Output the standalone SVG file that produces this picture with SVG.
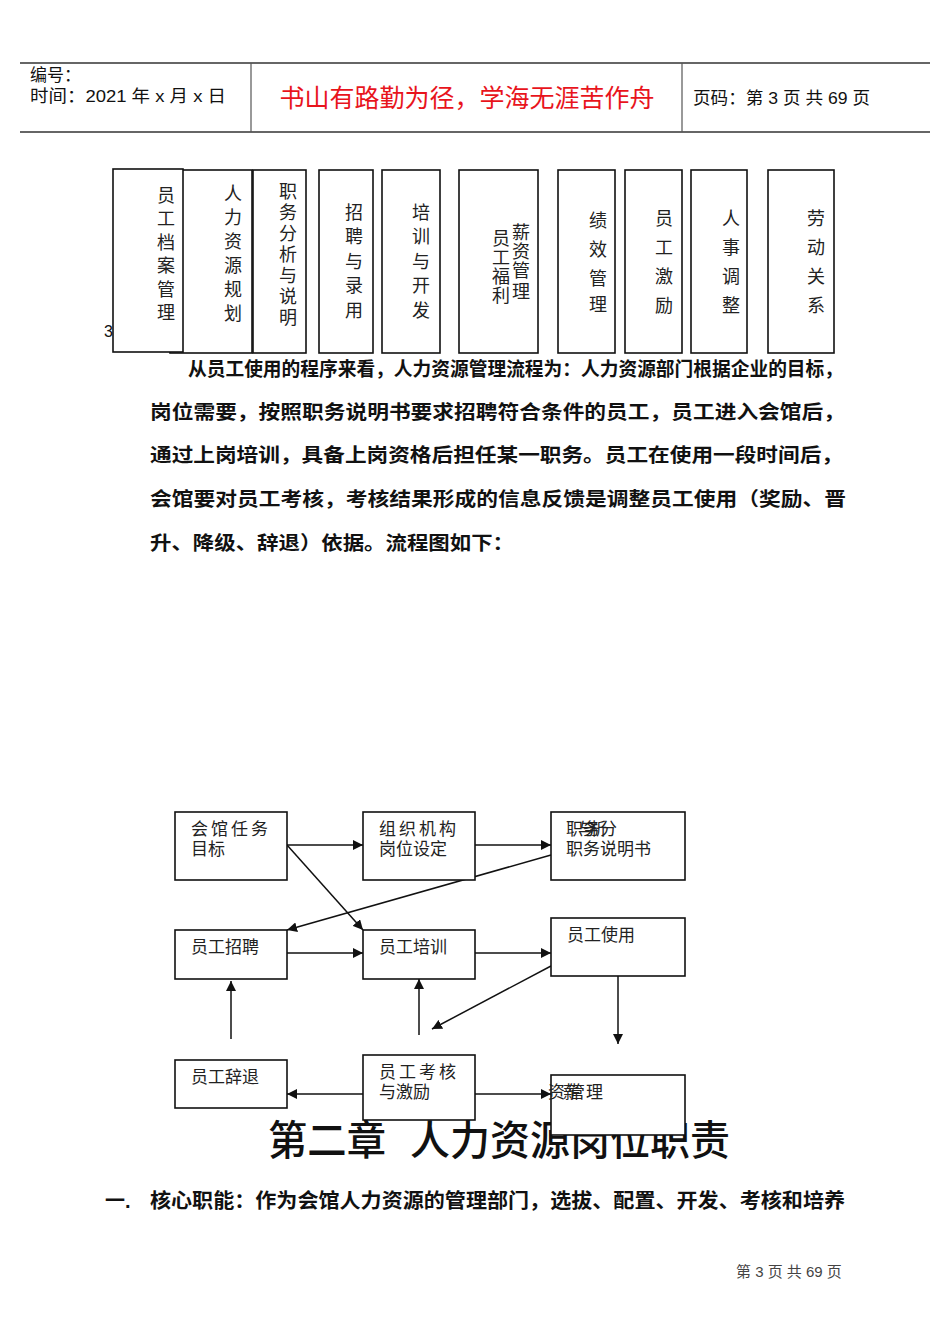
<svg xmlns="http://www.w3.org/2000/svg" width="950" height="1342" viewBox="0 0 950 1342">
<style>
text{font-family:"Liberation Sans","Noto Sans CJK SC",sans-serif;fill:#111}
.hl{stroke:#666;stroke-width:2}
.vb{fill:#fff;stroke:#111;stroke-width:1.6}
.vt{font-size:18px;text-anchor:middle;fill:#222}
.fb{fill:#fff;stroke:#111;stroke-width:1.6}
.ft{font-size:17px;fill:#222}
.conn line{stroke:#111;stroke-width:1.5}
.p{font-size:19px;font-weight:bold}
</style>
<defs>
<marker id="ah" viewBox="0 0 10 10" refX="10" refY="5" markerWidth="10" markerHeight="10" markerUnits="userSpaceOnUse" orient="auto">
<path d="M0,0 L10,5 L0,10 Z" fill="#111"/>
</marker>
</defs>
<rect width="950" height="1342" fill="#fff"/>

<g id="header">
<line class="hl" x1="20" y1="63" x2="930" y2="63"/>
<line class="hl" x1="20" y1="132" x2="930" y2="132"/>
<line x1="251" y1="63" x2="251" y2="132" stroke="#555" stroke-width="1.2"/>
<line x1="682" y1="63" x2="682" y2="132" stroke="#555" stroke-width="1.2"/>
<text x="30" y="81" font-size="17">编号：</text>
<text x="30" y="102" font-size="17" textLength="196" lengthAdjust="spacingAndGlyphs">时间：2021 年 x 月 x 日</text>
<text x="467" y="107" font-size="25" text-anchor="middle" style="fill:#e8141c">书山有路勤为径，学海无涯苦作舟</text>
<text x="693" y="104" font-size="17" textLength="177" lengthAdjust="spacingAndGlyphs">页码：第 3 页 共 69 页</text>
</g>

<g id="functions">
<text x="104" y="337" font-size="16">3</text>
<g id="f2"><rect class="vb" x="170" y="170" width="82" height="183"/>
<text class="vt"><tspan x="233" y="200">人</tspan><tspan x="233" y="224">力</tspan><tspan x="233" y="248">资</tspan><tspan x="233" y="272">源</tspan><tspan x="233" y="296">规</tspan><tspan x="233" y="320">划</tspan></text></g>
<g id="f1"><rect class="vb" x="113" y="169" width="70" height="183"/>
<text class="vt"><tspan x="166" y="202">员</tspan><tspan x="166" y="225">工</tspan><tspan x="166" y="249">档</tspan><tspan x="166" y="272">案</tspan><tspan x="166" y="296">管</tspan><tspan x="166" y="319">理</tspan></text></g>
<g id="f3"><rect class="vb" x="253" y="170" width="53" height="183"/>
<text class="vt"><tspan x="288" y="198">职</tspan><tspan x="288" y="219">务</tspan><tspan x="288" y="240">分</tspan><tspan x="288" y="261">析</tspan><tspan x="288" y="282">与</tspan><tspan x="288" y="303">说</tspan><tspan x="288" y="324">明</tspan></text></g>
<g id="f4"><rect class="vb" x="319" y="170" width="54" height="183"/>
<text class="vt"><tspan x="354" y="219">招</tspan><tspan x="354" y="243">聘</tspan><tspan x="354" y="268">与</tspan><tspan x="354" y="292">录</tspan><tspan x="354" y="317">用</tspan></text></g>
<g id="f5"><rect class="vb" x="382" y="170" width="58" height="183"/>
<text class="vt"><tspan x="421" y="219">培</tspan><tspan x="421" y="243">训</tspan><tspan x="421" y="268">与</tspan><tspan x="421" y="292">开</tspan><tspan x="421" y="317">发</tspan></text></g>
<g id="f6"><rect class="vb" x="459" y="170" width="79" height="183"/>
<text class="vt" font-size="19"><tspan x="501" y="245">员</tspan><tspan x="501" y="264">工</tspan><tspan x="501" y="283">福</tspan><tspan x="501" y="302">利</tspan></text>
<text class="vt" font-size="19"><tspan x="521" y="239">薪</tspan><tspan x="521" y="258">资</tspan><tspan x="521" y="277">管</tspan><tspan x="521" y="298">理</tspan></text></g>
<g id="f7"><rect class="vb" x="558" y="170" width="57" height="183"/>
<text class="vt"><tspan x="598" y="227">绩</tspan><tspan x="598" y="256">效</tspan><tspan x="598" y="285">管</tspan><tspan x="598" y="311">理</tspan></text></g>
<g id="f8"><rect class="vb" x="625" y="170" width="57" height="183"/>
<text class="vt"><tspan x="664" y="225">员</tspan><tspan x="664" y="254">工</tspan><tspan x="664" y="283">激</tspan><tspan x="664" y="312">励</tspan></text></g>
<g id="f9"><rect class="vb" x="691" y="170" width="56" height="183"/>
<text class="vt"><tspan x="731" y="225">人</tspan><tspan x="731" y="254">事</tspan><tspan x="731" y="283">调</tspan><tspan x="731" y="312">整</tspan></text></g>
<g id="f10"><rect class="vb" x="768" y="170" width="66" height="183"/>
<text class="vt"><tspan x="816" y="225">劳</tspan><tspan x="816" y="254">动</tspan><tspan x="816" y="283">关</tspan><tspan x="816" y="312">系</tspan></text></g>
</g>

<g id="paragraph">
<text class="p" x="188" y="376" textLength="655" lengthAdjust="spacingAndGlyphs">从员工使用的程序来看，人力资源管理流程为：人力资源部门根据企业的目标，</text>
<text class="p" x="150" y="419" textLength="695" lengthAdjust="spacingAndGlyphs">岗位需要，按照职务说明书要求招聘符合条件的员工，员工进入会馆后，</text>
<text class="p" x="150" y="462" textLength="693" lengthAdjust="spacingAndGlyphs">通过上岗培训，具备上岗资格后担任某一职务。员工在使用一段时间后，</text>
<text class="p" x="150" y="506" textLength="696" lengthAdjust="spacingAndGlyphs">会馆要对员工考核，考核结果形成的信息反馈是调整员工使用（奖励、晋</text>
<text class="p" x="150" y="550" textLength="364" lengthAdjust="spacingAndGlyphs">升、降级、辞退）依据。流程图如下：</text>
</g>

<g id="chapter-title">
<text x="268" y="1155" font-size="41" font-weight="500" textLength="118" lengthAdjust="spacingAndGlyphs">第二章</text>
<text x="410" y="1155" font-size="41" font-weight="500" textLength="320" lengthAdjust="spacingAndGlyphs">人力资源岗位职责</text>
</g>

<g id="flow-connectors" class="conn">
<line x1="287" y1="845" x2="363" y2="845" marker-end="url(#ah)"/>
<line x1="475" y1="845" x2="551" y2="845" marker-end="url(#ah)"/>
<line x1="287" y1="845" x2="363" y2="930" marker-end="url(#ah)"/>
<line x1="551" y1="855" x2="287" y2="930" marker-end="url(#ah)"/>
<line x1="287" y1="953" x2="363" y2="953" marker-end="url(#ah)"/>
<line x1="475" y1="953" x2="551" y2="953" marker-end="url(#ah)"/>
<line x1="551" y1="966" x2="432" y2="1029" marker-end="url(#ah)"/>
<line x1="618" y1="976" x2="618" y2="1044" marker-end="url(#ah)"/>
<line x1="231" y1="1039" x2="231" y2="981" marker-end="url(#ah)"/>
<line x1="419" y1="1035" x2="419" y2="979" marker-end="url(#ah)"/>
<line x1="363" y1="1094" x2="287" y2="1094" marker-end="url(#ah)"/>
<line x1="475" y1="1094" x2="551" y2="1094" marker-end="url(#ah)"/>
</g>

<g id="n-goal"><rect class="fb" x="175" y="812" width="112" height="68"/>
<text class="ft" x="191" y="835" letter-spacing="3">会馆任务</text><text class="ft" x="191" y="855">目标</text></g>
<g id="n-org"><rect class="fb" x="363" y="812" width="112" height="68"/>
<text class="ft" x="379" y="835" letter-spacing="3">组织机构</text><text class="ft" x="379" y="855">岗位设定</text></g>
<g id="n-jobdesc"><rect class="fb" x="551" y="812" width="134" height="68"/>
<text class="ft" x="566" y="835">职</text><text class="ft" x="578" y="835">与</text><text class="ft" x="583" y="835">务</text><text class="ft" x="590" y="835">析</text><text class="ft" x="600" y="835">分</text>
<text class="ft" x="566" y="855">职务说明书</text></g>
<g id="n-recruit"><rect class="fb" x="175" y="930" width="112" height="49"/>
<text class="ft" x="191" y="953">员工招聘</text></g>
<g id="n-train"><rect class="fb" x="363" y="930" width="112" height="49"/>
<text class="ft" x="379" y="953">员工培训</text></g>
<g id="n-use"><rect class="fb" x="551" y="918" width="134" height="58"/>
<text class="ft" x="567" y="941">员工使用</text></g>
<g id="n-dismiss"><rect class="fb" x="175" y="1060" width="112" height="48"/>
<text class="ft" x="191" y="1083">员工辞退</text></g>
<g id="n-assess"><rect class="fb" x="363" y="1055" width="112" height="65"/>
<text class="ft" x="379" y="1078" letter-spacing="3">员工考核</text><text class="ft" x="379" y="1098">与激励</text></g>
<g id="n-pay"><rect class="fb" x="551" y="1075" width="134" height="60"/>
<text class="ft" x="548" y="1098">资</text><text class="ft" x="563" y="1098">薪</text><text class="ft" x="568" y="1098">管</text><text class="ft" x="586" y="1098">理</text></g>

<g id="core-line">
<text x="105" y="1208" font-size="20" font-weight="bold">一.</text>
<text x="150" y="1208" font-size="20" font-weight="bold" textLength="695" lengthAdjust="spacingAndGlyphs">核心职能：作为会馆人力资源的管理部门，选拔、配置、开发、考核和培养</text>
</g>

<text x="736" y="1277" font-size="15" style="fill:#444">第 3 页 共 69 页</text>
</svg>
